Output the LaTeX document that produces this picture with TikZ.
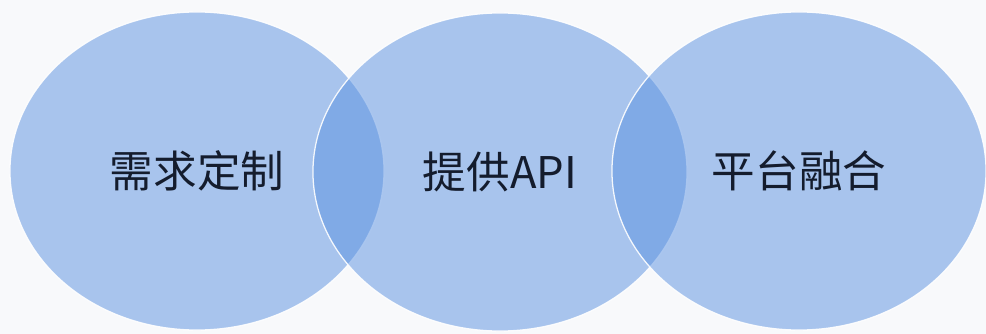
\documentclass[tikz,border=0pt]{standalone}
\usepackage{fontspec}
\setmainfont{Noto Sans CJK SC}
\usetikzlibrary{shapes.geometric}
\definecolor{paper}{RGB}{248,249,251}
\definecolor{bubbleblue}{RGB}{90,145,225}
\definecolor{inkblue}{RGB}{20,28,45}

\begin{document}
\begin{tikzpicture}[x=0.025cm,y=-0.025cm,
  bubble/.style={ellipse, inner sep=0pt, minimum width=9.35cm, minimum height=7.95cm,
    fill=bubbleblue, fill opacity=0.5, draw=white, draw opacity=0.9, line width=0.9pt,
    text opacity=1, text=inkblue, font=\fontsize{31}{31}\selectfont}]
\fill [paper] (0,0) rectangle (986,334);
\useasboundingbox (0,0) rectangle (986,334);
% three overlapping ellipses, later ones on top
\node [bubble] (need) at (197,171) {需求定制};
\node [bubble] (api) at (500,172) {提供API};
\node [bubble] (merge) at (799,171) {平台融合};
\end{tikzpicture}
\end{document}
